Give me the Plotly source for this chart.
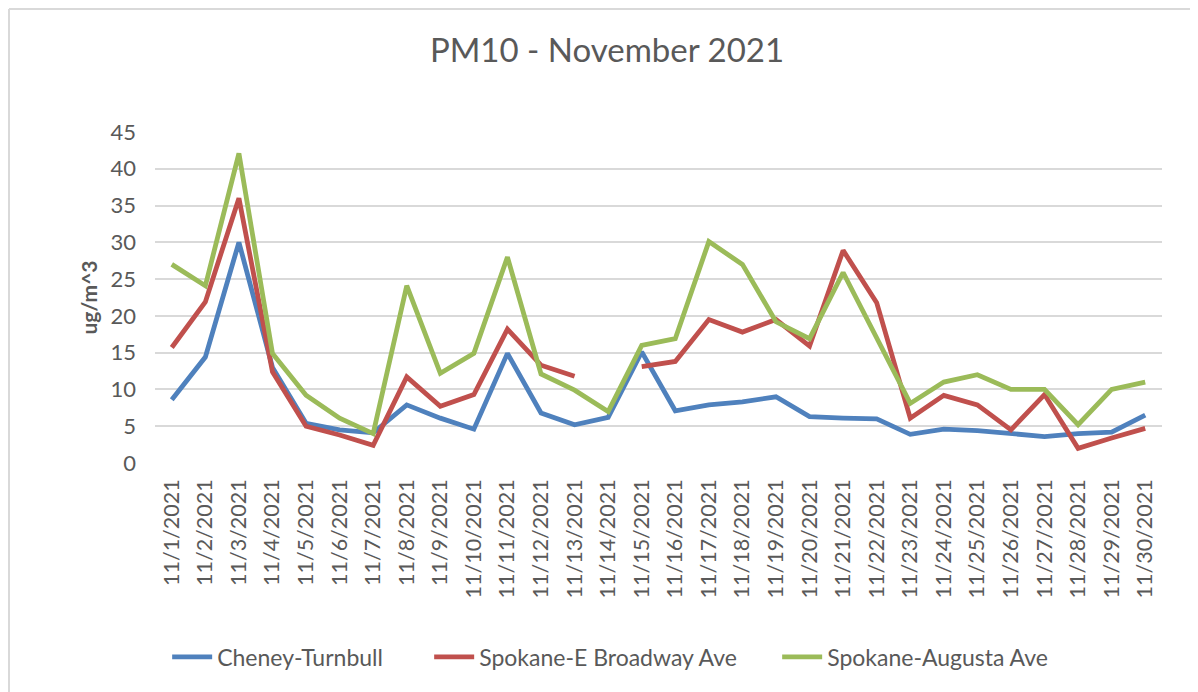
import plotly.graph_objects as go

dates = [f"11/{d}/2021" for d in range(1, 31)]

cheney = [8.6, 14.4, 30.0, 13.0, 5.4, 4.5, 4.1, 7.9, 6.1, 4.6,
          14.9, 6.8, 5.2, 6.2, 15.1, 7.1, 7.9, 8.3, 9.0, 6.3,
          6.1, 6.0, 3.9, 4.6, 4.4, 4.0, 3.6, 4.0, 4.2, 6.5]
broadway = [15.7, 21.9, 36.0, 12.4, 5.0, 3.8, 2.4, 11.7, 7.7, 9.3,
            18.2, 13.3, 11.8, None, 13.1, 13.8, 19.5, 17.8, 19.5, 15.9,
            28.9, 21.8, 6.1, 9.2, 7.9, 4.5, 9.3, 2.0, 3.4, 4.7]
augusta = [27.0, 24.1, 42.1, 14.9, 9.2, 6.1, 4.0, 24.1, 12.2, 14.9,
           28.0, 12.1, 9.9, 7.0, 16.0, 16.9, 30.1, 27.0, 19.2, 16.9,
           25.9, 17.0, 8.1, 11.0, 12.0, 10.0, 10.0, 5.2, 10.0, 11.0]

names = ["Cheney-Turnbull", "Spokane-E Broadway Ave", "Spokane-Augusta Ave"]
colors = ["#4F81BD", "#C0504D", "#9BBB59"]
values = [cheney, broadway, augusta]
pads = [7, 6, 0]  # spacing after legend entries

FONT = "Lato"
GREY = "#595959"

W, H = 1190, 684  # page body adds an 8px offset
L, T = 147, 124
PW, PH = 1007, 331

fig = go.Figure()
for name, vals, col, pad in zip(names, values, colors, pads):
    fig.add_trace(go.Scatter(
        x=dates, y=vals, name=name + "&nbsp;" * pad, mode="lines",
        line=dict(color=col, width=4.8), connectgaps=False,
        hovertemplate=name + ": %{y}<extra></extra>",
    ))

fig.update_layout(
    width=W, height=H,
    paper_bgcolor="white", plot_bgcolor="white",
    margin=dict(l=L, r=W - L - PW, t=T, b=H - T - PH),
    font=dict(family=FONT, color=GREY),
    title=dict(text="PM10 - November 2021", x=599 / W, xanchor="center",
               y=1 - 42 / H, yanchor="middle", xref="container", yref="container",
               font=dict(size=33, color=GREY, family=FONT)),
    showlegend=True,
    legend=dict(orientation="h", x=0.452, xanchor="center", y=-0.586, yanchor="middle",
                font=dict(size=23, color=GREY, family=FONT), itemwidth=40,
                tracegroupgap=0),
    xaxis=dict(type="category", range=[-0.5, 29.5], tickangle=-90,
               tickfont=dict(size=21.5, color=GREY, family=FONT),
               showgrid=False, showline=False, zeroline=False, ticks="",
               ticklabelstandoff=11),
    yaxis=dict(range=[0, 45], dtick=5, tick0=0,
               tickfont=dict(size=22, color=GREY, family=FONT),
               showgrid=True, gridcolor="#D9D9D9", gridwidth=2,
               zeroline=False, showline=False, ticks="", ticklabelstandoff=18),
    annotations=[dict(text="<b>ug/m^3</b>", textangle=-90, x=-0.0665, y=0.5,
                      xref="paper", yref="paper", showarrow=False,
                      font=dict(size=21, color=GREY, family=FONT),
                      xanchor="center", yanchor="middle")],
    shapes=[
        dict(type="line", xref="paper", yref="paper", x0=-0.145, x1=1.05,
             y0=1.3716, y1=1.3716, line=dict(color="#D9D9D9", width=2)),
        dict(type="line", xref="paper", yref="paper", x0=-0.145, x1=-0.145,
             y0=1.3716, y1=-0.7, line=dict(color="#D9D9D9", width=2)),
    ],
)

fig.write_html("out.html")
